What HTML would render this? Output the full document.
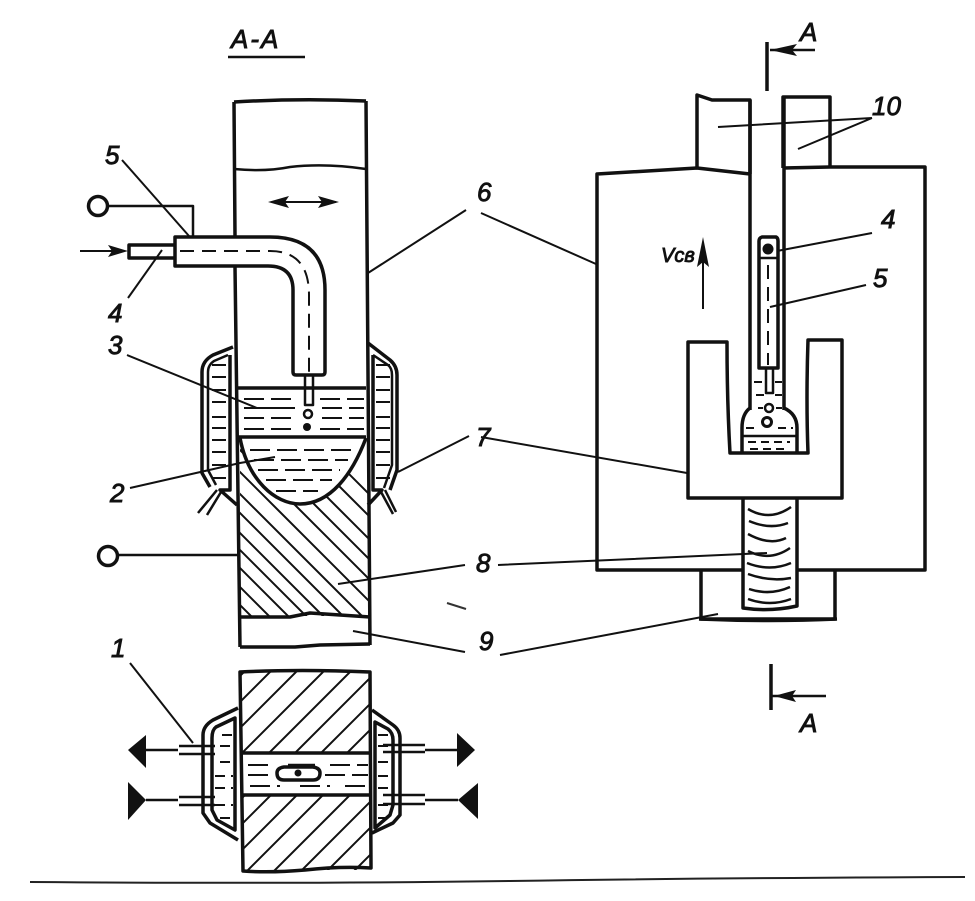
<!DOCTYPE html>
<html><head><meta charset="utf-8"><style>
html,body{margin:0;padding:0;background:#fff;width:975px;height:901px;overflow:hidden}
svg{display:block;overflow:hidden}
text{font-family:"Liberation Sans",sans-serif;font-style:italic;font-size:26px;fill:#111;stroke:#111;stroke-width:.9}
.t{fill:none;stroke:#111;stroke-width:3.5;stroke-linejoin:round}
.m{fill:none;stroke:#111;stroke-width:2.5;stroke-linejoin:round}
.l{fill:none;stroke:#111;stroke-width:2}
.d{fill:none;stroke:#111;stroke-width:2;stroke-dasharray:14 8}
.s{fill:none;stroke:#111;stroke-width:2;stroke-dasharray:20 7}
.h{fill:none;stroke:#111;stroke-width:2}
</style></head><body>
<svg width="975" height="901" viewBox="0 0 975 901" xmlns="http://www.w3.org/2000/svg">
<defs>
<clipPath id="c1"><rect x="240" y="438" width="128" height="178"/></clipPath>
<clipPath id="c2"><rect x="241" y="672" width="129" height="81"/></clipPath>
<clipPath id="c3"><rect x="241" y="795" width="130" height="75"/></clipPath>
</defs>
<rect width="975" height="901" fill="#fff"/>

<!-- Left column -->
<path class="t" d="M234 102Q300 98 366 101"/>
<path class="t" d="M234 102L235 236M235 267L240 647M366 101L370 645"/>
<path class="m" d="M234 169Q265 172 290 167Q325 163 366 169"/>
<path class="t" d="M240 617H290L310 613L370 617"/>
<path class="t" d="M240 647H295L320 645L370 644"/>
<!-- Travel arrow -->
<path class="l" d="M272 202H336"/>
<path d="M268 202L289 196L285 202L289 208ZM339 202L318 196L322 202L318 208Z" fill="#111"/>

<!-- Terminals -->
<circle cx="98" cy="206" r="9.5" fill="#fff" stroke="#111" stroke-width="3.5"/>
<path class="m" d="M108 206H193V236"/>
<circle cx="108" cy="556" r="9.5" fill="#fff" stroke="#111" stroke-width="3.5"/>
<path class="m" d="M118 555H238"/>

<!-- Torch tube -->
<path class="t" d="M175 237H270Q325 237 325 290V372Q325 375 322 375H296Q293 375 293 372V290Q293 266 268 266H175Z"/>
<path class="t" d="M175 245H129V258H175"/>
<path class="d" d="M180 251H270Q309 251 309 295V372"/>
<path class="m" d="M305 376V405H313V376"/>
<path class="l" d="M80 251H122"/>
<path d="M128 251L108 245L112 251L108 257Z" fill="#111"/>

<!-- Hatched weld -->
<g clip-path="url(#c1)">
<path class="h" d="M220 345L400 525M220 367L400 547M220 390L400 570M220 410L400 590M220 430L400 610M220 452L400 632M220 474L400 654M220 493L400 673M220 513L400 693M220 530L400 710M220 548L400 728M220 567L400 747M220 585L400 765"/>
</g>
<path d="M240 438C248 480 275 504 300 504C330 504 352 475 366 438Z" fill="#fff"/>
<path class="t" d="M240 438C248 480 275 504 300 504C330 504 352 475 366 438"/>

<!-- Slag and pool -->
<path class="t" d="M238 388H366M238 437H366"/>
<path class="s" d="M244 399H296M320 399H364M244 408H295M322 408H364M244 418H295M322 418H364M244 429H296M320 429H364"/>
<path class="s" d="M250 450H352M254 460H348M258 470H340M266 480H332M276 491H318"/>
<circle cx="308" cy="414" r="4" fill="#fff" stroke="#111" stroke-width="2.5"/>
<circle cx="307" cy="427" r="4" fill="#111"/>

<!-- Shoes, upper -->
<path class="t" d="M233 347L213 355Q202 361 202 372V473L210 487"/>
<path class="m" d="M228 355L214 361Q208 365 208 372V470L216 485"/>
<path class="t" d="M230 355V490H220L237 505"/>
<path class="l" stroke-dasharray="14 6" d="M212 365H228M212 377H228M212 390H228M212 402H228M212 417H228M212 428H228M212 440H228M212 452H228M212 465H228M212 478H228"/>
<path class="m" d="M198 513L217 490M207 515L221 492"/>
<path class="t" d="M368 343L390 360Q397 366 397 375V470L390 490"/>
<path class="m" d="M373 355L388 365Q392 368 392 375V465L384 488"/>
<path class="t" d="M373 355V490H382L368 505"/>
<path class="l" stroke-dasharray="14 6" d="M376 365H390M376 377H390M376 390H390M376 402H390M376 417H390M376 428H390M376 440H390M376 452H390M376 465H390M376 478H390"/>
<path class="m" d="M380 490L393 514M385 490L396 512"/>

<!-- Lower section -->
<g clip-path="url(#c2)"><path class="h" d="M220 696L400 516M220 722L400 542M220 748L400 568M220 775L400 595M220 802L400 622M220 828L400 648M220 854L400 674M220 880L400 700M242 880L400 722"/></g>
<g clip-path="url(#c3)"><path class="h" d="M220 820L400 640M220 846L400 666M220 872L400 692M238 880L400 718M265 880L400 745M292 880L400 772M318 880L400 798M345 880L400 825"/></g>
<path class="t" d="M240 672Q300 669 370 672L371 868Q340 866 305 870Q270 873 243 871Z"/>
<path class="t" d="M241 753H370M241 795H370"/>
<path class="s" d="M248 765H272M330 765H368M248 775H272M325 775H368M250 786H280M300 786H330M345 786H368"/>
<path class="t" d="M284 767H313Q320 768 320 773Q320 780 313 780H284Q277 780 277 773Q277 768 284 767Z" fill="none"/>
<circle cx="298" cy="773" r="3.5" fill="#111"/>
<path class="m" d="M288 765H315"/>

<!-- Lower shoes -->
<path class="t" d="M238 708L213 720Q203 726 203 735V813L210 823L238 840"/>
<path class="t" d="M235 718L216 727Q212 730 212 738V810L217 820L235 830Z"/>
<path class="l" stroke-dasharray="10 6" d="M222 735H233M220 746H233M220 762H233M215 776H233M215 788H233M215 805H233M220 818H233"/>
<path class="t" d="M372 710L393 725Q400 730 400 738V815L393 823L372 833"/>
<path class="t" d="M375 722L388 729Q393 733 393 740V805L390 815L375 828Z"/>
<path class="l" stroke-dasharray="10 6" d="M378 735H392M378 746H392M378 762H392M378 776H392M378 788H392M378 805H390M378 818H386"/>
<!-- Valves -->
<path class="m" d="M179 746H215M179 754H215M179 797H215M179 805H215M383 745H425M383 752H425M383 795H425M383 804H425"/>
<path class="m" d="M146 750H178M146 800H178M425 750H457M425 800H458"/>
<path d="M128 750L146 735V768Z" fill="#111"/>
<path d="M146 800L128 782V820Z" fill="#111"/>
<path d="M475 750L457 733V767Z" fill="#111"/>
<path d="M458 800L478 783V819Z" fill="#111"/>

<!-- Right: outer plate -->
<path class="t" d="M750 174L697 168L597 174V570H743M797 570H925V167H830L783 168"/>
<path class="t" d="M697 168V95L712 100H750V174"/>
<path class="t" d="M783 168V97H830V167"/>
<path class="t" d="M750 100V410M784 97V410"/>
<path class="t" d="M701 570V619H835V570"/>
<path class="t" d="M699 619Q770 622 837 619"/>

<!-- U copper slider -->
<path class="t" d="M688 342H727Q727 400 730 453H808Q806 400 808 340H842V498H688Z"/>
<!-- Electrode -->
<path class="t" d="M762 237H776Q778 238 778 241V368H759V241Q759 238 762 237Z"/>
<path class="m" d="M759 258H778"/>
<circle cx="768" cy="249" r="5.5" fill="#111"/>
<path class="d" d="M768 265V365"/>
<path class="m" d="M766 369V393H773V369"/>
<!-- Pool -->
<path class="t" d="M750 408Q742 414 742 428V453M784 408Q797 414 797 428V453"/>
<path class="m" d="M742 436H797"/>
<path class="l" stroke-dasharray="8 5" d="M754 382H764M775 382H782M756 395H764M775 395H782M758 408H763M776 408H782M746 428H757M778 428H793M748 442H790M750 449H785"/>
<circle cx="769" cy="408" r="4" fill="#fff" stroke="#111" stroke-width="2.5"/>
<circle cx="767" cy="422" r="4.5" fill="#fff" stroke="#111" stroke-width="3"/>

<!-- Weld column -->
<path class="t" d="M743 498V608Q770 612 797 606V498"/>
<path class="m" d="M748 509Q770 522 791 507M749 521Q770 530 788 523M748 534Q770 546 786 538M748 551Q770 562 790 548M747 563Q770 572 791 563M748 574Q770 582 791 578M749 589Q770 596 790 587M748 599Q770 607 791 599"/>

<!-- V arrow -->
<path class="l" d="M703 309V250"/>
<path d="M703 237L697 267L703 262L709 267Z" fill="#111"/>
<text x="661" y="262" style="font-size:20px">Vсв</text>

<!-- Section marks -->
<path class="t" d="M767 42V91"/>
<path class="m" d="M770 50H815"/>
<path d="M770 50L797 44L792 50L797 56Z" fill="#111"/>
<text x="800" y="41">A</text>
<path class="t" d="M771 664V710"/>
<path class="m" d="M771 696H826"/>
<path d="M774 696L796 690L792 696L796 702Z" fill="#111"/>
<text x="800" y="732">A</text>

<!-- A-A title -->
<text x="231" y="48" style="font-size:26px;letter-spacing:2px">A-A</text>
<path class="m" d="M228 57H305"/>

<!-- Labels -->
<text x="105" y="164">5</text>
<path class="l" d="M122 160L189 236"/>
<path class="l" d="M162 250L128 298"/>
<text x="108" y="322">4</text>
<text x="108" y="354">3</text>
<path class="l" d="M127 355L257 408H295"/>
<text x="110" y="502">2</text>
<path class="l" d="M130 488L240 463L275 457"/>
<text x="111" y="657">1</text>
<path class="l" d="M130 663L193 743"/>
<text x="477" y="201">6</text>
<path class="l" d="M466 210L368 273M481 213L596 264"/>
<text x="476" y="446">7</text>
<path class="l" d="M469 436L398 472M481 437L687 473"/>
<text x="476" y="572">8</text>
<path class="l" d="M465 565L338 584M498 565L767 553"/>
<text x="479" y="650">9</text>
<path class="l" d="M465 652L353 631M500 655L718 614"/>
<text x="872" y="115">10</text>
<path class="l" d="M872 118L718 127M872 118L798 149"/>
<text x="881" y="228">4</text>
<path class="l" d="M872 233L777 251"/>
<text x="873" y="287">5</text>
<path class="l" d="M866 285L770 307"/>

<!-- Bottom rule -->
<path d="M30 882Q300 884 510 881Q700 878 965 877" fill="none" stroke="#222" stroke-width="2"/>
<!-- Specks -->
<path d="M447 603L466 609" stroke="#333" stroke-width="2" fill="none"/>
</svg>
</body></html>
